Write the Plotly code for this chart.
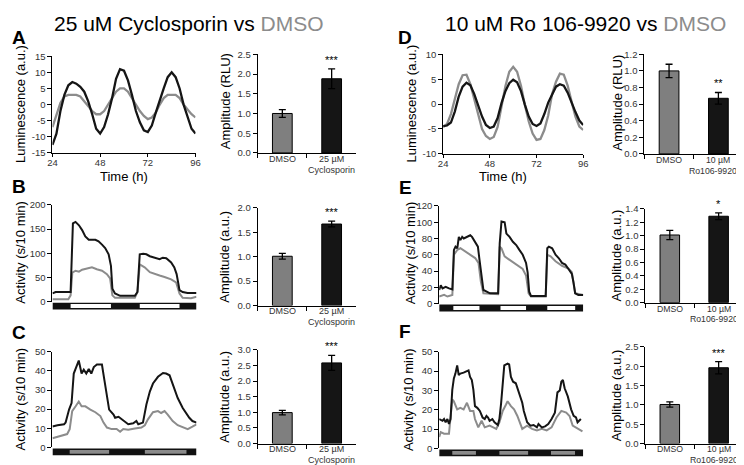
import plotly.graph_objects as go

W, H = 744, 465
FONT = "Liberation Sans, Arial, sans-serif"
BLACK = "#151515"
GREY = "#8c8c8c"
BAR_GREY = "#7f7f7f"
TICK_C = "#333333"

# ---------------- DATA ----------------
# Panel A: luminescence (25 uM Cyclosporin vs DMSO)
lum_t = [24, 26, 28, 30, 32, 34, 36, 38, 40, 42, 44, 46, 48, 50, 52, 54, 56, 58, 60,
         62, 64, 66, 68, 70, 72, 74, 76, 78, 80, 82, 84, 86, 88, 90, 92, 94, 96]
A_cyclo = [-12.5, -9, -2, 3, 6, 7, 6.5, 5.5, 4, 1, -3, -7.5, -9, -7, -3, 2, 8, 11, 10.5,
           7.5, 3, -2, -5.5, -8, -8.5, -6.5, -2.5, 1.5, 5, 8.5, 10, 8.5, 5, 0, -4, -7.5, -9]
A_dmso = [-7, -3.5, 0.5, 2.5, 3, 3, 3, 2.5, 1, -0.5, -2, -3, -3, -2, 0, 2, 4, 5, 5,
          4, 2, 0, -2, -3.5, -4.5, -4, -2.5, 0, 2, 3, 3, 3, 2, 0, -1.5, -3, -4]
# Panel D: luminescence (10 uM Ro 106-9920 vs DMSO)
D_ro = [-4.4, -4.3, -3.7, -1.5, 1.5, 3.5, 4.3, 3.8, 2, -0.3, -2.5, -4.2, -4.8, -4.5, -2.8, 0.2, 2.6, 4.2, 4.9,
        4.4, 2.6, -0.1, -2.5, -4, -4.4, -3.9, -2, 0.3, 2, 3.5, 4, 3.7, 2.3, 0.2, -1.6, -3.3, -4.2]
D_dmso = [-4.6, -4, -2, 1, 4, 5.8, 5.9, 4, 1, -2.3, -5, -6.4, -7, -6.6, -4.6, -0.5, 3.6, 6.5, 7.5,
          6.5, 3.7, -0.2, -3.5, -5.9, -7.2, -7, -5.2, -2.3, 2, 4.5, 6.1, 5.9, 3.7, 0.5, -2.5, -4.5, -5.2]
lum_ticks = [24, 48, 72, 96]

# Panel B: activity (hours from start of recording)
B_cyclo_t = [0, 1.1, 5.5, 6.3, 7.1, 8.0, 9.2, 10.3, 11.4, 12.6, 14.9, 16.0, 17.2, 18.3, 19.5, 20.3, 20.8,
             21.7, 23.5, 28.6, 29.5, 30.3, 31.5, 32.6, 33.8, 35.5, 37.2, 38.3, 39.5, 41.2, 42.3, 43.1,
             44.1, 45.2, 46.9, 50.0]
B_cyclo = [17, 20, 20, 20, 162, 165, 158, 148, 135, 128, 128, 125, 118, 111, 98, 74, 27,
           17, 12, 12, 20, 98, 99, 98, 94, 91, 88, 91, 90, 81, 71, 57,
           24, 20, 18, 18]
B_dmso_t = [0, 5.5, 6.3, 6.9, 8.0, 9.2, 10.3, 12.0, 13.7, 15.4, 17.2, 18.9, 20.0, 20.8, 21.7, 28.6,
            29.5, 30.3, 32.0, 33.8, 35.5, 37.2, 38.9, 41.2, 42.9, 44.1, 45.2, 48.1, 50.0]
B_dmso = [5, 5, 13, 60, 64, 62, 66, 69, 71, 67, 64, 57, 48, 13, 8, 8,
          20, 77, 71, 61, 57, 54, 51, 46, 40, 17, 8, 7, 10]
B_ld = [0, 6.3, 20.3, 30.3, 44.1, 50.0]

# Panel C
C_cyclo_t = [0, 1.6, 3.7, 4.2, 5.3, 6.1, 6.8, 7.9, 8.4, 9.3, 10.0, 10.8, 11.6, 12.4, 13.2, 14.2, 15.8,
             16.6, 17.4, 18.1, 19.5, 20.0, 21.1, 22.1, 23.2, 24.2, 25.8, 26.8, 27.4, 28.9, 30.0, 31.1,
             32.1, 33.7, 35.3, 36.3, 37.4, 38.4, 40.0, 41.6, 42.6, 43.7, 44.7, 46.0]
C_cyclo = [10.9, 11.6, 12.1, 13, 19.8, 23.2, 38.6, 44, 45.4, 38.6, 40.6, 38.6, 41, 38.6, 42, 43.3, 43.3,
           35, 26.6, 19.8, 17.2, 15.5, 16, 14.7, 13.3, 12.1, 12.6, 13.8, 12.1, 13, 22.4, 29.2,
           33.4, 36.9, 38.9, 38.6, 37.7, 33.4, 25.8, 20.6, 18, 15.5, 13.8, 13]
C_dmso_t = [0, 1.6, 3.2, 4.7, 5.5, 6.3, 7.4, 8.4, 9.3, 10.5, 12.1, 13.7, 15.3, 16.3, 17.4, 18.9, 20.5,
            21.6, 22.6, 24.2, 26.3, 28.4, 29.5, 30.5, 32.1, 33.7, 34.7, 35.8, 36.8, 38.4, 40.0, 41.6,
            43.2, 44.7, 46.0]
C_dmso = [4.8, 5.6, 6.1, 7, 9.6, 19, 21.5, 24, 21.5, 21.5, 19.8, 18.4, 16.4, 13, 10.4, 9.6, 9.6,
          8.2, 9.6, 9.2, 9.9, 10.4, 11.6, 14.7, 18.4, 19, 18, 19, 17.2, 13.8, 11.6, 10.4,
          9.6, 10.9, 12.1]
C_ld = [0, 5.5, 18.1, 29.5, 42.8, 46.0]

# Panel E
E_ro_t = [0, 0.8, 1.7, 3.3, 5.0, 6.7, 7.5, 8.3, 9.2, 10.0, 10.8, 11.7, 12.5, 14.2, 15.8, 16.7, 18.3, 19.7,
          20.5, 21.7, 22.5, 24.2, 25.8, 30.0, 30.8, 31.7, 33.3, 34.2, 35.8, 37.5, 39.2, 40.8, 42.5,
          44.2, 45.0, 45.8, 46.7, 54.2, 55.0, 55.8, 57.5, 59.2, 60.8, 62.5, 64.2, 65.8, 67.5, 68.3,
          69.2, 70.8, 73.3]
E_ro = [16.7, 22.6, 18.7, 20.6, 18.7, 17.5, 66, 70, 68, 82, 78, 82, 80, 82, 84, 82, 76, 70,
        54, 27, 16.7, 14.7, 12.7, 12.7, 74, 101, 100, 86, 82, 76, 72, 66, 60,
        50, 38.5, 14.7, 9.5, 9.5, 68, 70, 68, 60, 56, 50, 48, 42.5, 36.6, 26.6,
        12.7, 10.7, 10.7]
E_dmso_t = [0, 2.5, 4.2, 6.7, 7.5, 9.2, 10.8, 13.3, 15.8, 18.3, 20.0, 21.2, 22.5, 30.0, 30.8, 31.7,
            33.3, 35.8, 39.2, 42.5, 44.2, 45.5, 46.7, 54.2, 55.0, 56.7, 59.2, 62.5, 65.8, 67.5,
            69.2, 73.3]
E_dmso = [8.7, 10.7, 8.7, 10.7, 60, 66, 68, 64, 60, 56, 50, 27, 12.7, 11.5, 70, 68,
          58, 54, 48, 42.5, 34.6, 12.7, 8.7, 8.7, 60, 58, 52, 46.5, 43, 38.5,
          12.7, 10.7]
E_ld = [0, 7.2, 20.5, 31.2, 44.2, 55.0, 69.2, 73.3]

# Panel F
F_ro_t = [0, 1.7, 2.5, 3.3, 4.2, 5.0, 5.8, 6.7, 7.5, 8.3, 9.2, 10.0, 10.8, 12.5, 15.0, 15.8, 16.7, 17.5,
          18.3, 19.5, 20.8, 22.2, 23.3, 24.2, 25.0, 25.8, 27.2, 28.3, 30.0, 30.8, 31.7, 32.5, 33.3,
          35.0, 35.8, 36.7, 37.8, 39.2, 40.8, 42.5, 43.3, 45.0, 46.7, 48.3, 50.0, 50.8, 52.5, 54.2,
          55.8, 57.5, 59.2, 60.5, 61.7, 62.5, 63.3, 64.2, 65.8, 67.5, 68.8, 70.0, 70.8, 72.5]
F_ro = [15.2, 14.3, 15.2, 13.5, 15.2, 12.6, 15.2, 30.3, 36.2, 38.7, 42.9, 37.9, 38.7, 39.2, 40.4, 37, 35.4, 30.3,
        21.9, 21, 19.4, 16, 15.2, 16.8, 16, 14.3, 15.2, 13.5, 12.1, 15.2, 23.6, 33.7, 42.9,
        43.8, 43.4, 37, 34.5, 33.7, 28.6, 23.6, 19.4, 13.5, 11.8, 12.1, 10.9, 12.6, 10.9, 11.4,
        12.6, 15.2, 18.5, 29, 30, 34.5, 35.4, 31.1, 26.9, 20.2, 16.8, 16, 13.5, 15.2]
F_dmso_t = [0, 0.8, 2.5, 5.0, 6.7, 7.5, 9.2, 10.8, 12.5, 14.2, 15.8, 17.5, 18.3, 20.0, 21.7, 23.3, 25.8,
            29.2, 30.8, 32.5, 34.2, 35.0, 36.7, 38.3, 40.0, 41.7, 42.5, 45.0, 47.5, 50.0, 52.5, 55.0,
            57.5, 60.0, 62.5, 65.0, 66.7, 68.3, 70.8, 73.3]
F_dmso = [5.9, 8.4, 7.6, 7.6, 25.3, 24.4, 20.2, 21, 20.2, 23.6, 19.4, 19.4, 15.2, 10.9, 14.3, 10.9, 11.8,
          10.1, 13.5, 19.4, 22.7, 24.4, 21.9, 20.2, 16.8, 11.8, 10.1, 11.8, 10.1, 9.3, 10.1, 9.3,
          10.9, 16, 19.4, 18.5, 16.8, 11.8, 10.1, 8.8]
F_ld = [0, 6.7, 18.8, 30.8, 45.5, 57.2, 69.5, 73.7]

# Amplitude bar charts: [DMSO, drug], with SEM
bar_cats = ["DMSO", "drug"]
cyclo_labels = [["DMSO", ""], ["25 µM", "Cyclosporin"]]
ro_labels = [["DMSO", ""], ["10 µM", "Ro106-9920"]]
A_amp, A_err, A_sig = [1.0, 1.88], [0.1, 0.25], "***"
B_amp, B_err, B_sig = [1.01, 1.67], [0.06, 0.06], "***"
C_amp, C_err, C_sig = [0.99, 2.58], [0.07, 0.24], "***"
D_amp, D_err, D_sig = [1.0, 0.67], [0.08, 0.07], "**"
E_amp, E_err, E_sig = [1.01, 1.29], [0.07, 0.05], "*"
F_amp, F_err, F_sig = [1.01, 1.96], [0.07, 0.16], "***"

# ---------------- FIGURE ----------------
fig = go.Figure()
layout = {}
shapes = []
annots = []
counter = [0]


def xd(a, b):
    return [a / W, b / W]


def yd(top, bot):
    return [1 - bot / H, 1 - top / H]


def new_axes(xpx, ypx, xcfg, ycfg):
    counter[0] += 1
    n = counter[0]
    sx = "" if n == 1 else str(n)
    xcfg = dict(xcfg, domain=xd(*xpx), anchor="y" + sx, showgrid=False, zeroline=False)
    ycfg = dict(ycfg, domain=yd(*ypx), anchor="x" + sx, showgrid=False, zeroline=False)
    layout["xaxis" + sx] = xcfg
    layout["yaxis" + sx] = ycfg
    return "x" + sx, "y" + sx


def yaxis_cfg(lo, hi, step, dec):
    vals = []
    v = lo
    while v <= hi + 1e-9:
        vals.append(round(v, 6))
        v += step
    return dict(range=[lo, hi + (hi - lo) * 0.002], tickvals=vals,
                ticktext=[f"{t:.{dec}f}" for t in vals],
                showline=True, linecolor="black", linewidth=1,
                ticks="outside", ticklen=4, tickcolor="black", tickwidth=1,
                tickfont=dict(size=9.5, color=TICK_C, family=FONT))


def text_px(text, xpx, ypx, size, **kw):
    d = dict(text=text, x=xpx / W, y=1 - ypx / H, xref="paper", yref="paper",
             showarrow=False, xanchor="center", yanchor="middle",
             font=dict(size=size, color=kw.pop("color", "black"), family=FONT))
    d.update(kw)
    annots.append(d)


def ytitle(text, xpx, ypx):
    text_px(text, xpx, ypx, 13, textangle=-90)


def lum_panel(xpx, ypx, ydef, dmso, drug, title_x):
    xcfg = dict(range=[24, 96], tickvals=lum_ticks, ticktext=[str(t) for t in lum_ticks],
                showline=True, linecolor="black", linewidth=1, ticks="outside", ticklen=3,
                ticklabelstandoff=-2,
                tickcolor="black", tickfont=dict(size=9.5, color=TICK_C, family=FONT))
    xa, ya = new_axes(xpx, ypx, xcfg, ydef)
    fig.add_trace(go.Scatter(x=lum_t, y=dmso, mode="lines", line=dict(color=GREY, width=2.3),
                             xaxis=xa, yaxis=ya, showlegend=False))
    fig.add_trace(go.Scatter(x=lum_t, y=drug, mode="lines", line=dict(color=BLACK, width=2.3),
                             xaxis=xa, yaxis=ya, showlegend=False))
    text_px("Time (h)", title_x, 167, 13)


def act_panel(xpx, ypx, ydef, t_d, dmso, t_x, drug, ld, light_col):
    xcfg = dict(range=[ld[0], ld[-1]], visible=False)
    xa, ya = new_axes(xpx, ypx, xcfg, ydef)
    fig.add_trace(go.Scatter(x=t_d, y=dmso, mode="lines", line=dict(color=GREY, width=2.0),
                             xaxis=xa, yaxis=ya, showlegend=False))
    fig.add_trace(go.Scatter(x=t_x, y=drug, mode="lines", line=dict(color=BLACK, width=2.0),
                             xaxis=xa, yaxis=ya, showlegend=False))
    top = 1 - (ypx[1] + 1) / H
    bot = 1 - (ypx[1] + 8) / H
    shapes.append(dict(type="rect", xref=xa, yref="paper", x0=ld[0], x1=ld[-1], y0=bot, y1=top,
                       fillcolor="#111111", line=dict(width=0), layer="above"))
    for i in range(1, len(ld) - 1, 2):
        shapes.append(dict(type="rect", xref=xa, yref="paper", x0=ld[i], x1=ld[i + 1],
                           y0=bot + 1.5 / H, y1=top - 1.5 / H, fillcolor=light_col,
                           line=dict(width=0), layer="above"))


def bar_panel(xpx, ypx, ydef, labels, amp, err, sig, edge_shift=0, lab_size=9):
    xcfg = dict(type="category", range=[-0.5, 1.5], showline=True, linecolor="black", linewidth=1,
                ticks="outside", tickson="boundaries", ticklen=4, tickcolor="black",
                showticklabels=False)
    xa, ya = new_axes(xpx, ypx, xcfg, ydef)
    fig.add_trace(go.Bar(x=bar_cats, y=amp, width=0.4, marker=dict(color=[BAR_GREY, BLACK],
                         line=dict(color="black", width=1)),
                         error_y=dict(type="data", array=err, color="black", thickness=1.3, width=3.5),
                         xaxis=xa, yaxis=ya, showlegend=False))
    annots.append(dict(text=sig, x=bar_cats[1], y=amp[1] + err[1], xref=xa, yref=ya, showarrow=False,
                       xanchor="center", yanchor="bottom", yshift=1,
                       font=dict(size=11, color="black", family=FONT)))
    for cat, (l1, l2) in zip(bar_cats, labels):
        for line, dy, xs in ((l1, 6, 0), (l2, 17, edge_shift)):
            if line:
                annots.append(dict(text=line, x=cat, xref=xa, y=1 - (ypx[1] + dy) / H, yref="paper",
                                   showarrow=False, xanchor="center", yanchor="middle", xshift=xs,
                                   borderpad=0,
                                   font=dict(size=lab_size, color=TICK_C, family=FONT)))


# Panel A
lum_panel((40, 185), (44, 143), yaxis_cfg(-15, 15, 5, 0), A_dmso, A_cyclo, 113)
ytitle("Luminescence (a.u.)", 8, 93)
bar_panel((248, 348), (42, 143), yaxis_cfg(0, 2.5, 0.5, 1), cyclo_labels, A_amp, A_err, A_sig)
ytitle("Amplitude (RLU)", 215, 90)

# Panel B
act_panel((40, 186), (196, 295), yaxis_cfg(0, 200, 50, 0), B_dmso_t, B_dmso, B_cyclo_t, B_cyclo,
          B_ld, "white")
ytitle("Activity (s/10 min)", 8, 244)
bar_panel((248, 348), (199, 299), yaxis_cfg(0, 2.0, 0.5, 1), cyclo_labels, B_amp, B_err, B_sig)
ytitle("Amplitude (a.u.)", 215, 249)

# Panel C
act_panel((40, 186), (346, 444), yaxis_cfg(0, 50, 10, 0), C_dmso_t, C_dmso, C_cyclo_t, C_cyclo,
          C_ld, "#8a8a8a")
ytitle("Activity (s/10 min)", 8, 394)
bar_panel((248, 348), (344, 440), yaxis_cfg(0, 3.0, 0.5, 1), cyclo_labels, C_amp, C_err, C_sig)
ytitle("Amplitude (a.u.)", 214, 392)

# Panel D
lum_panel((436, 578), (42, 144), yaxis_cfg(-10, 10, 5, 0), D_dmso, D_ro, 497)
ytitle("Luminescence (a.u.)", 404, 93)
bar_panel((640, 740), (42, 144), yaxis_cfg(0, 1.2, 0.2, 1), ro_labels, D_amp, D_err, D_sig,
          edge_shift=-5, lab_size=8.7)
ytitle("Amplitude (RLU)", 612, 92)

# Panel E
act_panel((432, 578), (197, 297), yaxis_cfg(0, 120, 20, 0), E_dmso_t, E_dmso, E_ro_t, E_ro,
          E_ld, "white")
ytitle("Activity (s/10 min)", 403, 245)
bar_panel((641, 740), (200, 296), yaxis_cfg(0, 1.4, 0.2, 1), ro_labels, E_amp, E_err, E_sig,
          edge_shift=-5, lab_size=8.7)
ytitle("Amplitude (a.u.)", 612, 248)

# Panel F
act_panel((432, 578), (346, 445), yaxis_cfg(0, 50, 10, 0), F_dmso_t, F_dmso, F_ro_t, F_ro,
          F_ld, "#8a8a8a")
ytitle("Activity (s/10 min)", 401, 395)
bar_panel((641, 740), (341, 440), yaxis_cfg(0, 2.5, 0.5, 1), ro_labels, F_amp, F_err, F_sig,
          edge_shift=-5, lab_size=8.7)
ytitle("Amplitude (a.u.)", 612, 391)

# Titles and panel letters
text_px("25 uM Cyclosporin vs <span style='color:#8c8c8c'>DMSO</span>", 178, 11, 21)
text_px("10 uM Ro 106-9920 vs <span style='color:#8c8c8c'>DMSO</span>", 580, 11, 21)
for letter, lx, ly in [("A", 6, 25), ("B", 6, 177), ("C", 6, 327),
                       ("D", 397, 25), ("E", 398, 178), ("F", 397, 326)]:
    text_px("<b>" + letter + "</b>", lx, ly, 19)

fig.update_layout(**layout)
fig.update_layout(width=W, height=H, margin=dict(l=0, r=0, t=0, b=0), plot_bgcolor="white",
                  paper_bgcolor="white", shapes=shapes, annotations=annots, bargap=0.6,
                  font=dict(family=FONT))
fig.write_html("out.html")
